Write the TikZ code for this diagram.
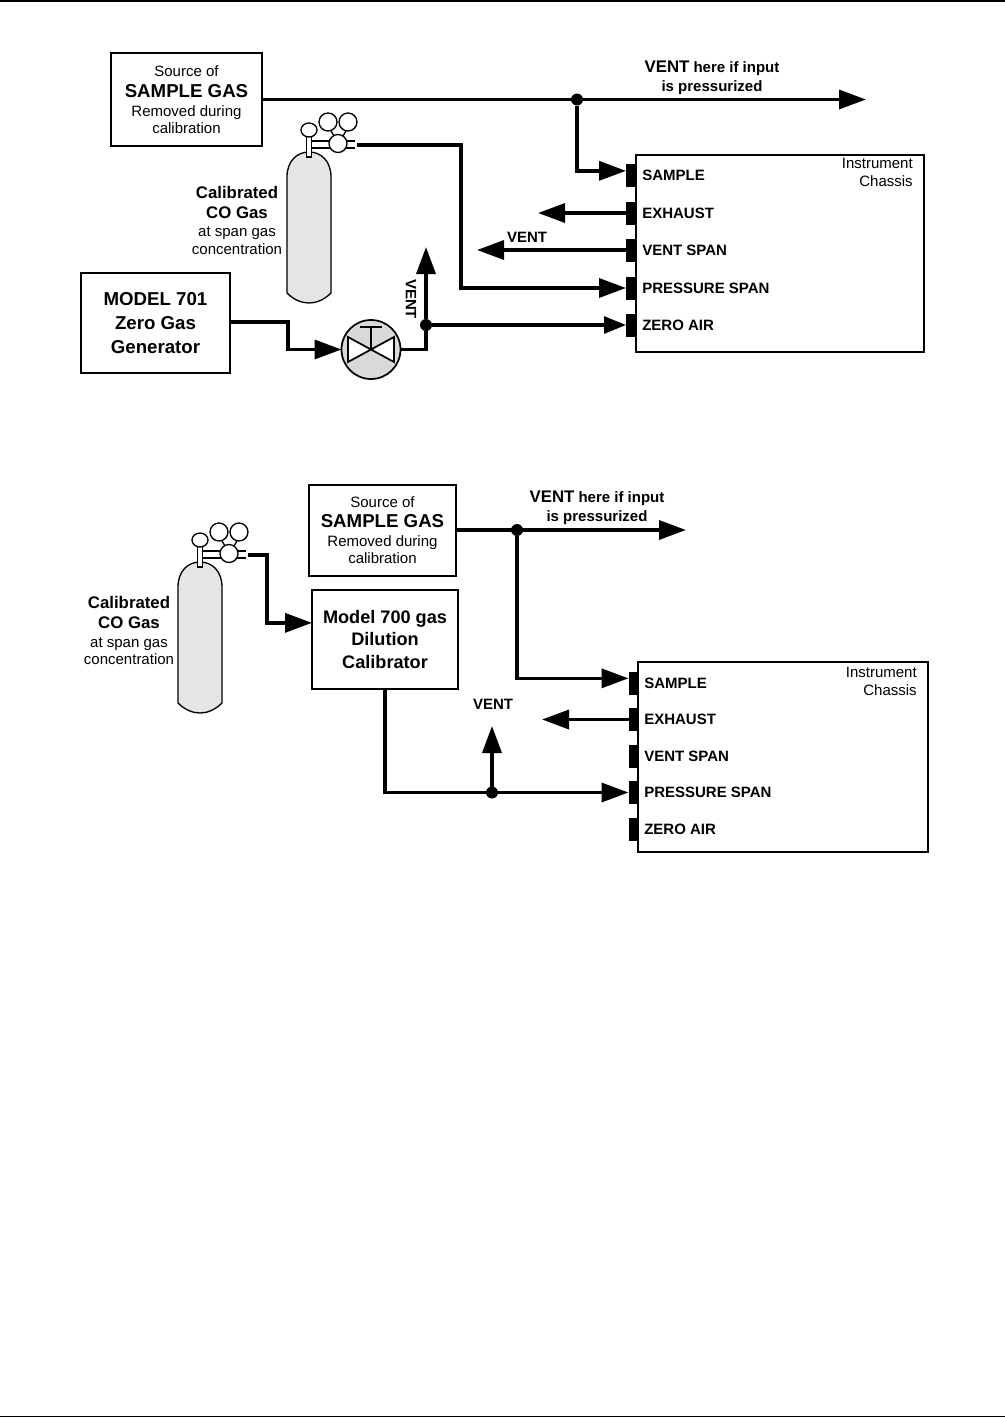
\documentclass[tikz,border=0pt]{standalone}
\usepackage{fontspec}
\setmainfont{Liberation Sans}
\usetikzlibrary{arrows.meta}

\newcommand{\px}{0.75pt}
\newcommand{\bigbold}[1]{{\fontsize{14}{16}\selectfont\bfseries #1}}
\newcommand{\midbold}[1]{{\fontsize{12.6}{15}\selectfont\bfseries #1}}

\tikzset{
    txt/.style={font=\fontsize{11.25}{13}\selectfont, align=center, inner sep=0pt},
    portlabel/.style={font=\fontsize{11.25}{13}\selectfont\bfseries, anchor=west, inner sep=0pt},
    gasbox/.style={draw, line width=1.5pt, fill=white, inner sep=0pt, outer sep=0pt, align=center,
        font=\fontsize{11.25}{13}\selectfont},
    chassis/.style={draw, line width=1pt, fill=white, inner sep=0pt, outer sep=0pt},
    port/.style={fill=black, inner sep=0pt, outer sep=0pt, minimum width=10*\px, minimum height=23*\px},
    pipe/.style={line width=2.6pt, -{Triangle[length=27*\px, width=19*\px]}},
    thinpipe/.style={line width=2.3pt, -{Triangle[length=22*\px, width=17*\px]}},
    plainpipe/.style={line width=2.6pt},
    joint/.style={circle, fill=black, inner sep=0pt, outer sep=0pt, minimum size=12*\px},
    pics/gascyl/.style={code={
        \draw[line width=1pt, fill=black!10] (-22,163) -- (-22,47)
            .. controls (-22,31) and (-12,22) .. (0,22)
            .. controls (12,22) and (22,31) .. (22,47) -- (22,163)
            .. controls (15,170) and (7,173) .. (0,173)
            .. controls (-7,173) and (-15,170) .. (-22,163) -- cycle;
        \draw[line width=1pt, fill=white] (-2.5,6) rectangle (2.5,27);
        \draw[line width=1pt, fill=white] (0,0) ellipse [x radius=8, y radius=7];
        \draw[line width=1pt] (3,11) -- (46,11) (3,18) -- (46,18);
        \draw[line width=1pt, fill=white] (19,-8) circle [radius=9];
        \draw[line width=1pt, fill=white] (39,-8) circle [radius=9];
        \draw[line width=1pt] (22,1) -- (25,6) (37,1) -- (34,6);
        \draw[line width=1pt, fill=white] (29,13.5) circle [radius=9];
        \coordinate (-outlet) at (48,15);
    }}
}

\begin{document}
\begin{tikzpicture}[x=0.75pt, y=-0.75pt]
    \useasboundingbox (0,0) rectangle (1005,1418);
    \draw[line width=1.1pt] (0,1) -- (1005,1);
    \draw[line width=1.1pt] (0,1416.5) -- (1005,1416.5);

    % upper hookup
    \node[gasbox, minimum width=151*\px, minimum height=93*\px] (srcA) at (186.5,99.5)
        {\raisebox{0.5pt}{Source of}\\[2.5pt] \bigbold{SAMPLE GAS}\\[1.2pt] Removed during\\ calibration};
    \node[gasbox, minimum width=149*\px, minimum height=100*\px] (genA) at (155.5,323)
        {\raisebox{1pt}{\bigbold{MODEL 701}}\\[4.5pt] \bigbold{Zero Gas}\\[5pt] \bigbold{Generator}};
    \node[chassis, minimum width=288*\px, minimum height=197*\px] (chsA) at (780,253.5) {};
    \node[txt, anchor=north east, align=right] (chsAtxt) at (913,158) {Instrument\\[0.5pt] Chassis};
    \foreach \k/\yy/\lab in {1/175.5/SAMPLE, 2/213/EXHAUST, 3/250/VENT SPAN, 4/288/PRESSURE SPAN, 5/325/ZERO AIR} {
        \node[port] (portA\k) at (631,\yy) {};
        \node[portlabel] (labA\k) at (642,\yy) {\lab};
    }
    \pic (cylA) at (309,130) {gascyl};
    \node[txt] (calA) at (237,220) {\midbold{Calibrated}\\[2pt] \midbold{CO Gas}\\[1pt] at span gas\\ concentration};
    \node[txt] (ventA) at (712,77.5) {\midbold{VENT} {\bfseries here if input}\\[1pt] {\bfseries is pressurized}};
    \node[txt, font=\fontsize{11.25}{13}\selectfont\bfseries] (ventB) at (527,237) {VENT};
    \node[txt, font=\fontsize{11.25}{13}\selectfont\bfseries, rotate=-90] (ventC) at (411,299) {VENT};

    \node[circle, draw, line width=1.3pt, fill=black!15, inner sep=0pt, outer sep=0pt, minimum size=59*\px] (valve) at (371,349.5) {};
    \draw[line width=1.3pt, fill=white] (348,337) -- (394,362) -- (394,337) -- (348,362) -- cycle;
    \draw[line width=1.3pt] (371,349.5) -- (371,327) (360,327) -- (382,327);

    \coordinate (tipA) at (866,99.5);
    \coordinate (tipB) at (538,213);
    \coordinate (tipC) at (477,250);
    \coordinate (tipD) at (426,247);
    \node[joint] (jntA) at (577,99.5) {};
    \node[joint] (jntB) at (426,325) {};
    \draw[pipe] (srcA.east) -- (tipA);
    \draw[pipe] (jntA) |- ([yshift=3.5pt]portA1.west);
    \draw[pipe] (portA2.west) -- (tipB);
    \draw[pipe] (portA3.west) -- (tipC);
    \draw[pipe] (cylA-outlet) -| (461,288) -- (portA4.west);
    \draw[pipe] ([yshift=0.75pt]genA.east) -- (288,322) |- (valve.west);
    \draw[plainpipe] (valve.east) -| (jntB);
    \draw[pipe] (jntB) -- (tipD);
    \draw[thinpipe] (jntB) -- (portA5.west);

    % lower hookup
    \node[gasbox, minimum width=147*\px, minimum height=91*\px] (srcB) at (382.5,530.5)
        {Source of\\[2pt] \bigbold{SAMPLE GAS}\\[1pt] Removed during\\ calibration};
    \node[gasbox, minimum width=146*\px, minimum height=99*\px] (dilB) at (385,639.5)
        {\raisebox{1pt}{\fontsize{13.6}{16}\selectfont\bfseries Model 700 gas}\\[2.5pt]
         {\fontsize{13.6}{16}\selectfont\bfseries Dilution}\\[4.5pt]
         {\fontsize{13.6}{16}\selectfont\bfseries Calibrator}};
    \node[chassis, minimum width=290*\px, minimum height=190*\px] (chsB) at (783,757) {};
    \node[txt, anchor=north east, align=right] (chsBtxt) at (917,667) {Instrument\\[0.5pt] Chassis};
    \foreach \k/\yy/\lab in {1/683/SAMPLE, 2/719.5/EXHAUST, 3/756/VENT SPAN, 4/792.5/PRESSURE SPAN, 5/829/ZERO AIR} {
        \node[port] (portB\k) at (633.5,\yy) {};
        \node[portlabel] (labB\k) at (644,\yy) {\lab};
    }
    \pic (cylB) at (200,540) {gascyl};
    \node[txt] (calB) at (129,630.5) {\midbold{Calibrated}\\[2pt] \midbold{CO Gas}\\[1pt] at span gas\\ concentration};
    \node[txt] (ventD) at (597,507.5) {\midbold{VENT} {\bfseries here if input}\\[1pt] {\bfseries is pressurized}};
    \node[txt, font=\fontsize{11.25}{13}\selectfont\bfseries] (ventE) at (493,704) {VENT};

    \coordinate (tipE) at (686,530);
    \coordinate (tipF) at (542,719.5);
    \coordinate (tipG) at (492,726);
    \node[joint] (jntC) at (517,530) {};
    \node[joint] (jntD) at (492,792.5) {};
    \draw[pipe] (srcB.east |- jntC) -- (tipE);
    \draw[pipe] (jntC) |- ([yshift=3.5pt]portB1.west);
    \draw[pipe] (portB2.west) -- (tipF);
    \draw[pipe] (cylB-outlet) -- (267,555) |- ([yshift=12.5pt]dilB.west);
    \draw[pipe] (dilB.south) |- (portB4.west);
    \draw[pipe] (jntD) -- (tipG);
\end{tikzpicture}
\end{document}
